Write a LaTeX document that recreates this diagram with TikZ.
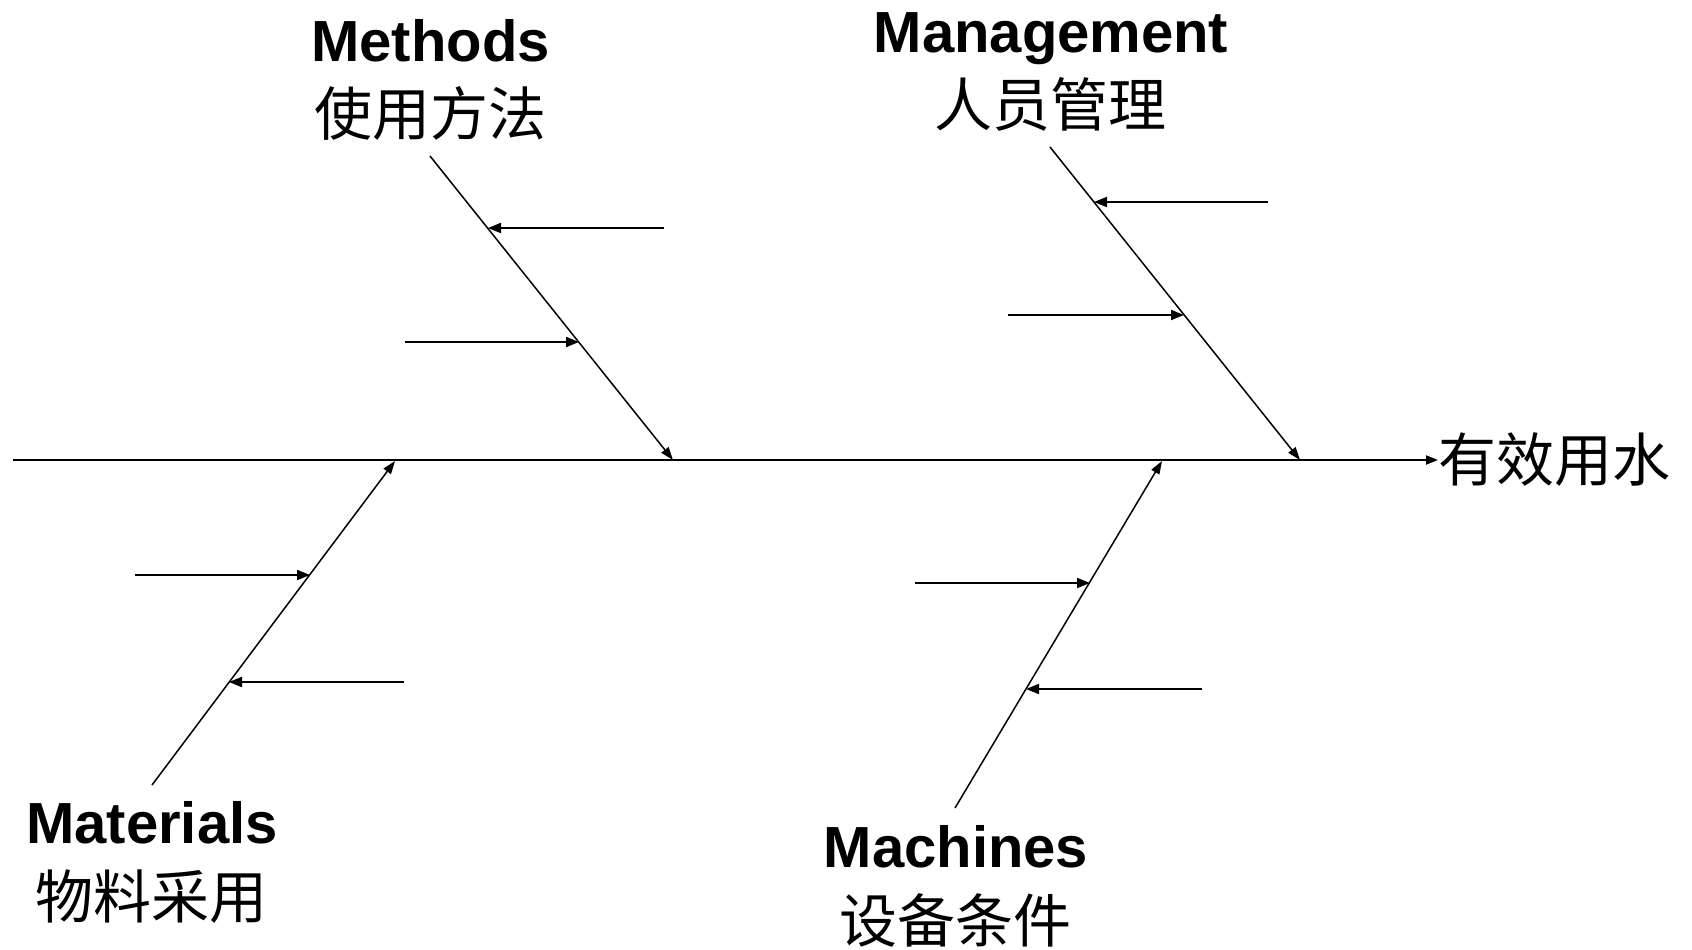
\documentclass[tikz,border=0pt]{standalone}
\usepackage{fontspec}
\setmainfont{Liberation Sans}
\newfontfamily\cjk{Noto Sans CJK SC}
\usetikzlibrary{arrows.meta}

\tikzset{
  head/.style={font=\fontsize{58}{60}\selectfont\bfseries, inner sep=0pt, anchor=base},
  cause/.style={font=\fontsize{58}{60}\selectfont\cjk, inner sep=0pt, anchor=center},
  spine/.style={line width=2pt, -{Triangle[length=12pt,width=9pt]}},
  bone/.style={line width=1.5pt, -{Triangle[length=13pt,width=9pt]}},
  twig/.style={line width=2pt, -{Triangle[length=13pt,width=10pt]}},
}

\begin{document}
\begin{tikzpicture}[x=1pt, y=-1pt]
  \useasboundingbox (0,0) rectangle (1692,950);

  % main spine and effect
  \coordinate (tail) at (13,460);
  \node[cause, anchor=west] (effect) at (1438,460) {有效用水};
  \draw[spine] (tail) -- (effect.west);

  % category labels
  \node[head] (meth) at (430.5,62) {Methods};
  \node[cause] (methc) at (430.5,113) {使用方法};
  \node[head] (mgmt) at (1051,53) {Management};
  \node[cause] (mgmtc) at (1050,104) {人员管理};
  \node[head] (mat) at (152,843) {Materials};
  \node[cause] (matc) at (151,897) {物料采用};
  \node[head] (mach) at (956,867) {Machines};
  \node[cause] (machc) at (955,920) {设备条件};

  % bone ends
  \coordinate (methA) at (430,156);   \coordinate (methB) at (673,460);
  \coordinate (mgmtA) at (1050,147);  \coordinate (mgmtB) at (1300,460);
  \coordinate (matA) at (152,785);    \coordinate (matB) at (395,461);
  \coordinate (machA) at (955,808);   \coordinate (machB) at (1162,461);

  \draw[bone] (methA) -- (methB);
  \draw[bone] (mgmtA) -- (mgmtB);
  \draw[bone] (matA) -- (matB);
  \draw[bone] (machA) -- (machB);

  % sub-causes feeding the bones
  \coordinate (m1s) at (664,228);  \coordinate (m1e) at (488,228);
  \coordinate (m2s) at (405,342);  \coordinate (m2e) at (579,342);
  \coordinate (g1s) at (1268,202); \coordinate (g1e) at (1094,202);
  \coordinate (g2s) at (1008,315); \coordinate (g2e) at (1184,315);
  \coordinate (t1s) at (135,575);  \coordinate (t1e) at (310,575);
  \coordinate (t2s) at (404,682);  \coordinate (t2e) at (229,682);
  \coordinate (c1s) at (915,583);  \coordinate (c1e) at (1090,583);
  \coordinate (c2s) at (1202,689); \coordinate (c2e) at (1026,689);

  \foreach \s/\e in {m1s/m1e, m2s/m2e, g1s/g1e, g2s/g2e, t1s/t1e, t2s/t2e, c1s/c1e, c2s/c2e}
    \draw[twig] (\s) -- (\e);
\end{tikzpicture}
\end{document}
